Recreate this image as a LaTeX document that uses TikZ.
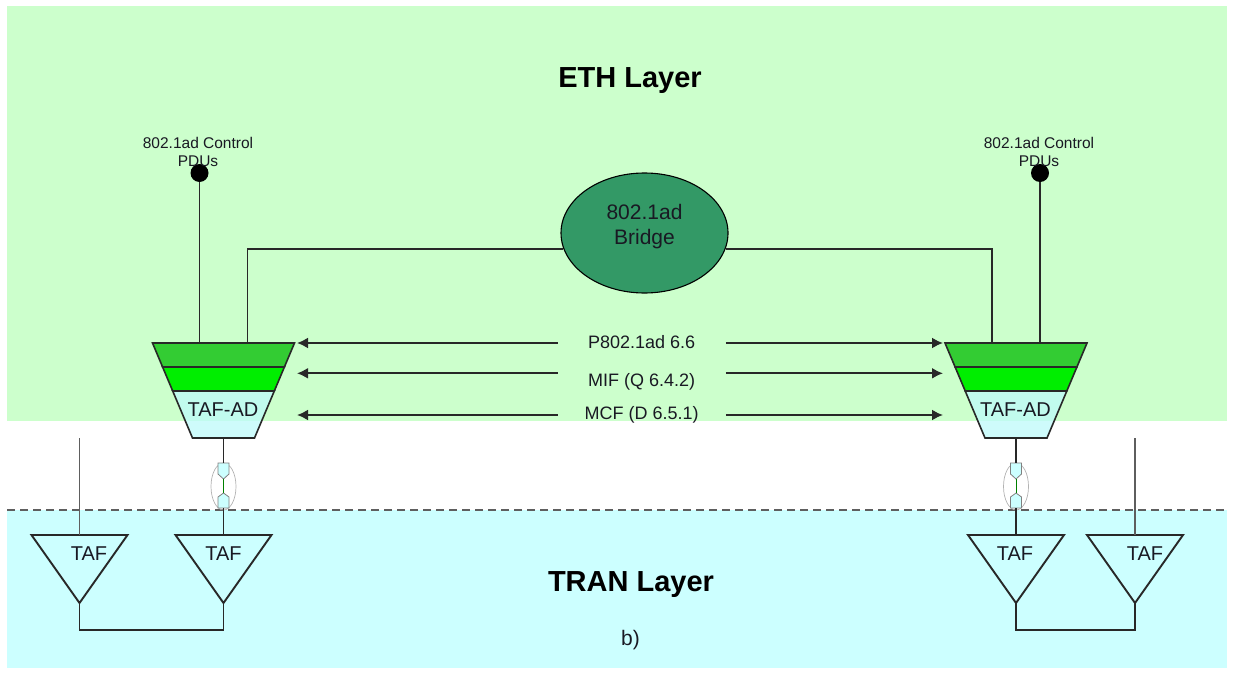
\documentclass[tikz,border=0pt]{standalone}
\usepackage{fontspec}
\setmainfont{Liberation Sans}
\usetikzlibrary{positioning}
\usetikzlibrary{arrows.meta}
\usetikzlibrary{shapes.geometric}

\definecolor{ethbg}{RGB}{204,255,204}
\definecolor{tranbg}{RGB}{204,255,255}
\definecolor{bridgegreen}{RGB}{51,153,102}
\definecolor{bandA}{RGB}{51,204,51}
\definecolor{bandB}{RGB}{0,238,0}
\definecolor{tafcyan}{RGB}{190,250,250}
\definecolor{wirecol}{RGB}{40,40,40}
\definecolor{txt}{RGB}{25,25,35}

\tikzset{
  wire/.style={draw=wirecol, line width=1.9pt},
  thinwire/.style={draw=wirecol!75, line width=1.3pt},
  lbl/.style={font=\fontsize{18}{20}\selectfont, text=txt, inner sep=0pt, minimum width=168pt},
  taf/.style={font=\fontsize{20}{22}\selectfont, text=txt, inner sep=0pt},
  pdu/.style={font=\fontsize{15.5}{18}\selectfont, align=center, text=txt, inner sep=0pt},
  layer/.style={font=\fontsize{29}{32}\selectfont\bfseries, text=black, inner sep=0pt},
  plug/.style={fill=tranbg, draw=gray, line width=0.8pt},
}

\begin{document}
\begin{tikzpicture}[x=1pt,y=-1pt,>={Latex[length=11pt,width=11pt]}]
	\useasboundingbox (0,0) rectangle (1233,674);
	% layers
	\fill[ethbg] (7,6) rectangle (1227,421);
	\fill[tranbg] (7,510) rectangle (1227,668);
	\draw[wirecol!75, line width=1.6pt, dash pattern=on 8pt off 5pt] (7,510) -- (1227,510);
	
	\node[layer] (eth) at (630,81) {ETH Layer};
	\node[layer] (tran) at (631,585) {TRAN Layer};
	\node[font=\fontsize{21}{24}\selectfont, text=txt] (sub) at (630.5,640) {b)};
	
	% bridge
	\node[ellipse, draw=black, line width=1.1pt, fill=bridgegreen, minimum width=167pt, minimum height=120pt, inner sep=0pt] (bridge) at (644.5,233) {};
	\node[font=\fontsize{21}{25}\selectfont, align=center, text=txt] (bridgetxt) at (644.5,227) {802.1ad\\Bridge};
	
	% TAF-AD
	\foreach \s/\cx in {L/223.5, R/1016} {
		\filldraw[fill=bandA, draw=wirecol, line width=1.6pt] (\cx-71,343) -- (\cx+71,343) -- (\cx+60.9,367) -- (\cx-60.9,367) -- cycle;
		\filldraw[fill=bandB, draw=wirecol, line width=1.6pt] (\cx-60.9,367) -- (\cx+60.9,367) -- (\cx+50.8,391) -- (\cx-50.8,391) -- cycle;
		\filldraw[fill=tafcyan, fill opacity=0.75, draw=wirecol, line width=1.6pt] (\cx-50.8,391) -- (\cx+50.8,391) -- (\cx+31,438) -- (\cx-31,438) -- cycle;
		\node[taf] (ad\s-txt) at (\cx-0.5,410) {TAF-AD};
		\coordinate (ad\s-w) at (\cx-24,343);
		\coordinate (ad\s-e) at (\cx+24,343);
		\coordinate (ad\s-bot) at (\cx,438);
		% plugs
		\draw[gray!60, line width=0.7pt] (\cx,486.5) ellipse [x radius=12.5, y radius=23.5];
		\filldraw[plug] (\cx-5.5,463) -- (\cx+5.5,463) -- (\cx+5.5,474) -- (\cx,479) -- (\cx-5.5,474) -- cycle;
		\filldraw[plug] (\cx-5.5,508) -- (\cx-5.5,497) -- (\cx,493) -- (\cx+5.5,497) -- (\cx+5.5,508) -- cycle;
		\coordinate (p\s-a) at (\cx,463);
		\coordinate (p\s-b) at (\cx,479);
		\coordinate (p\s-c) at (\cx,493);
		\coordinate (p\s-d) at (\cx,508);
	}
	
	% control PDUs
	\node[circle, fill=black, minimum size=18pt, inner sep=0pt] (dotL) at (199.5,173) {};
	\node[circle, fill=black, minimum size=18pt, inner sep=0pt] (dotR) at (1040,173) {};
	\node[pdu] (pduL) at (198,152) {802.1ad Control\\PDUs};
	\node[pdu] (pduR) at (1039,152) {802.1ad Control\\PDUs};
	\draw[wire] (dotL) -- (adL-w);
	\draw[wire] (dotR) -- (adR-e);
	\draw[wire] (bridge.191) -| (adL-e);
	\draw[wire] (bridge.349) -| (adR-w);
	
	% arrows between TAF-AD
	\coordinate (aL1) at (297,343);
	\coordinate (aR1) at (943,343);
	\coordinate (aL2) at (297,373.3);
	\coordinate (aR2) at (943,373.3);
	\coordinate (aL3) at (297,415);
	\coordinate (aR3) at (943,415);
	\node[lbl] (lbl1) at (641.7,341.7) {P802.1ad 6.6};
	\node[lbl] (lbl2) at (641.7,382) {MIF (Q 6.4.2)};
	\node[lbl] (lbl3) at (641.7,415) {MCF (D 6.5.1)};
	\foreach \i in {1,2,3} {
		\draw[wire,->] (lbl\i.west |- aL\i) -- (aL\i);
		\draw[wire,->] (lbl\i.east |- aR\i) -- (aR\i);
	}
	
	% TAF
	\foreach \n/\cx/\tx in {t1/79.5/89, t2/223.5/223.5, t3/1016/1015, t4/1135/1145} {
		\draw[wire] (\cx-48,535) -- (\cx+48,535) -- (\cx,603) -- cycle;
		\coordinate (\n-top) at (\cx,535);
		\coordinate (\n-apex) at (\cx,603);
		\coordinate (\n-foot) at (\cx,630);
		\node[taf] (\n-txt) at (\tx,554) {TAF};
	}
	\coordinate (sigL) at (79.5,438);
	\coordinate (sigR) at (1135,438);
	\draw[thinwire] (sigL) -- (t1-top);
	\draw[thinwire] (sigR) -- (t4-top);
	
	% cables
	\foreach \s/\t in {L/t2, R/t3} {
		\draw[wire] (ad\s-bot) -- (p\s-a);
		\draw[green!50!black, line width=0.7pt] (p\s-b) -- (p\s-c);
		\draw[wire] (p\s-d) -- (\t-top);
	}
	\draw[wire] (t1-apex) -- (t1-foot) -- (t2-foot) -- (t2-apex);
	\draw[wire] (t3-apex) -- (t3-foot) -- (t4-foot) -- (t4-apex);
\end{tikzpicture}
\end{document}
